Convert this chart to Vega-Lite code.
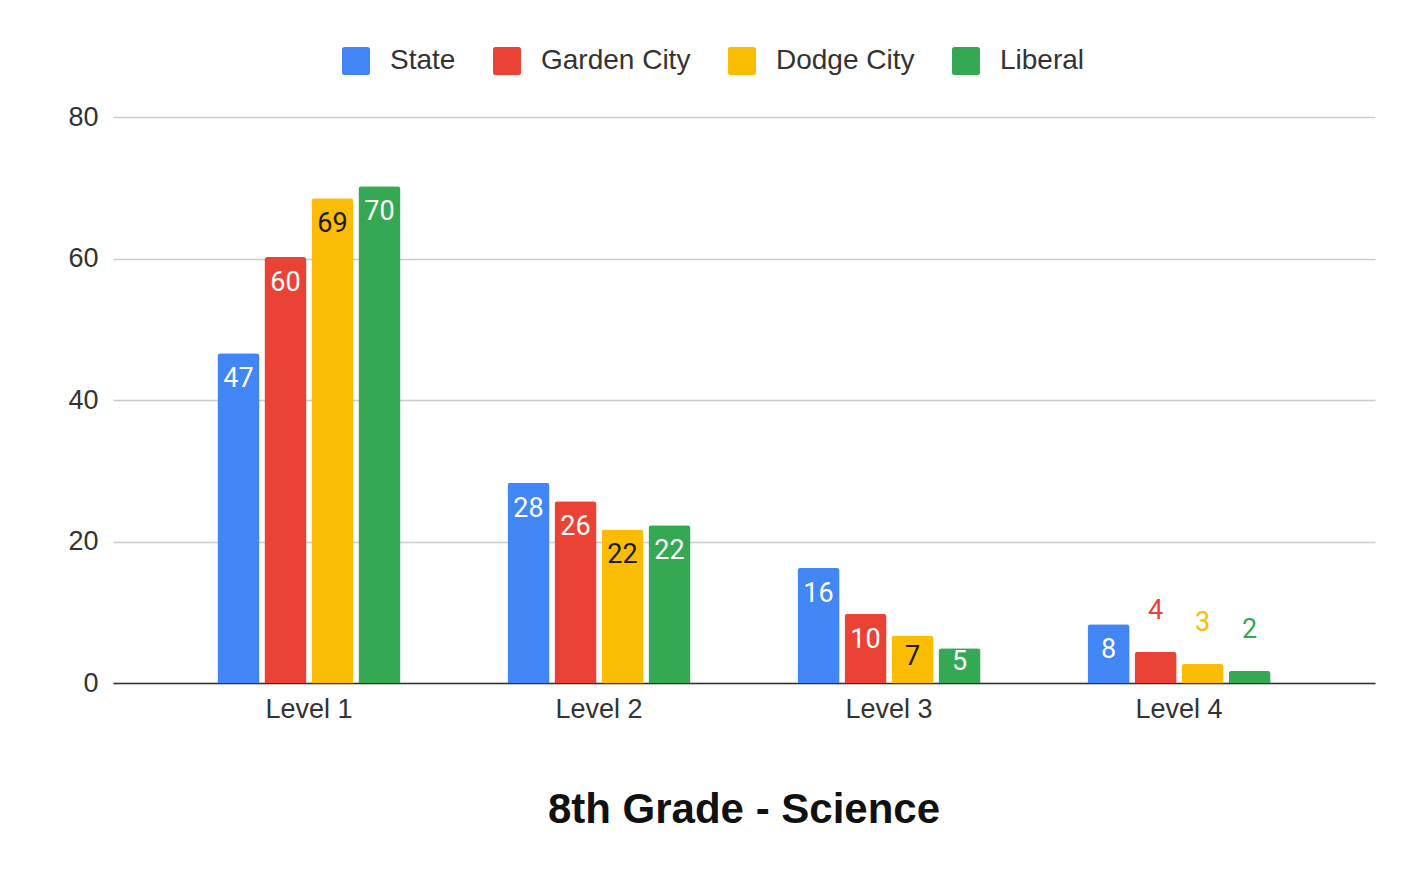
{
  "$schema": "https://vega.github.io/schema/vega-lite/v6.json",
  "width": 1262,
  "height": 566,
  "autosize": {"type": "none"},
  "padding": {"left": 113, "top": 117, "right": 35, "bottom": 187},
  "background": "white",
  "config": {
    "font": "Liberation Sans",
    "view": {"stroke": null},
    "axis": {"labelFont": "Liberation Sans", "labelColor": "#444"}
  },
  "title": {
    "text": "8th Grade - Science",
    "orient": "bottom",
    "anchor": "middle",
    "fontSize": 42,
    "fontWeight": "bold",
    "color": "#111",
    "font": "Liberation Sans",
    "offset": 68
  },
  "data": {
    "values": [
      {"level": "Level 1", "series": "State", "value": 46.6},
      {"level": "Level 1", "series": "Garden City", "value": 60.2},
      {"level": "Level 1", "series": "Dodge City", "value": 68.5},
      {"level": "Level 1", "series": "Liberal", "value": 70.2},
      {"level": "Level 2", "series": "State", "value": 28.3},
      {"level": "Level 2", "series": "Garden City", "value": 25.7},
      {"level": "Level 2", "series": "Dodge City", "value": 21.7},
      {"level": "Level 2", "series": "Liberal", "value": 22.3},
      {"level": "Level 3", "series": "State", "value": 16.3},
      {"level": "Level 3", "series": "Garden City", "value": 9.8},
      {"level": "Level 3", "series": "Dodge City", "value": 6.7},
      {"level": "Level 3", "series": "Liberal", "value": 4.9},
      {"level": "Level 4", "series": "State", "value": 8.3},
      {"level": "Level 4", "series": "Garden City", "value": 4.4},
      {"level": "Level 4", "series": "Dodge City", "value": 2.7},
      {"level": "Level 4", "series": "Liberal", "value": 1.7}
    ]
  },
  "encoding": {
    "x": {
      "field": "level",
      "type": "nominal",
      "scale": {"paddingInner": 0.369, "paddingOuter": 0.36},
      "axis": {
        "title": null,
        "labelAngle": 0,
        "labelFontSize": 27,
        "labelPadding": 13,
        "labelColor": "#333",
        "ticks": false,
        "domainColor": "#333",
        "domainWidth": 1.5,
        "grid": false
      }
    },
    "xOffset": {
      "field": "series",
      "type": "nominal",
      "sort": ["State", "Garden City", "Dodge City", "Liberal"],
      "scale": {"paddingInner": 0.106, "paddingOuter": 0}
    },
    "y": {
      "field": "value",
      "type": "quantitative",
      "scale": {"domain": [0, 80]},
      "axis": {
        "title": null,
        "values": [0, 20, 40, 60, 80],
        "labelFontSize": 27,
        "labelPadding": 15,
        "labelColor": "#333",
        "ticks": false,
        "domain": false,
        "gridColor": "#cccccc",
        "gridWidth": 1.3
      }
    }
  },
  "layer": [
    {
      "mark": {"type": "bar", "cornerRadiusTopLeft": 3, "cornerRadiusTopRight": 3},
      "encoding": {
        "color": {
          "field": "series",
          "type": "nominal",
          "sort": ["State", "Garden City", "Dodge City", "Liberal"],
          "scale": {
            "domain": ["State", "Garden City", "Dodge City", "Liberal"],
            "range": ["#4285F4", "#EA4335", "#FBBC04", "#34A853"]
          },
          "legend": {
            "orient": "none",
            "legendX": 229,
            "legendY": -70,
            "title": null,
            "direction": "horizontal",
            "labelFontSize": 28,
            "labelFont": "Liberation Sans",
            "labelColor": "#333",
            "symbolSize": 784,
            "symbolType": "M -0.82 -1 L 0.82 -1 Q 1 -1 1 -0.82 L 1 0.82 Q 1 1 0.82 1 L -0.82 1 Q -1 1 -1 0.82 L -1 -0.82 Q -1 -1 -0.82 -1 Z",
            "symbolStrokeWidth": 0,
            "symbolOpacity": 1,
            "labelOffset": 20,
            "columnPadding": 37
          }
        }
      }
    },
    {
      "transform": [{"filter": "datum.value >= 8"}],
      "mark": {"type": "text", "baseline": "middle", "align": "center", "dy": 26, "fontSize": 27, "font": "Roboto"},
      "encoding": {
        "text": {"field": "value", "type": "quantitative", "format": ".0f"},
        "color": {
          "condition": {"test": "datum.series === 'Dodge City'", "value": "#1a1a1a"},
          "value": "#ffffff"
        }
      }
    },
    {
      "transform": [{"filter": "datum.value >= 6 && datum.value < 8"}],
      "mark": {"type": "text", "baseline": "middle", "align": "center", "dy": 21, "fontSize": 27, "font": "Roboto"},
      "encoding": {
        "text": {"field": "value", "type": "quantitative", "format": ".0f"},
        "color": {
          "condition": {"test": "datum.series === 'Dodge City'", "value": "#1a1a1a"},
          "value": "#ffffff"
        }
      }
    },
    {
      "transform": [{"filter": "datum.value >= 4.8 && datum.value < 6"}],
      "mark": {"type": "text", "baseline": "middle", "align": "center", "dy": 14, "fontSize": 27, "font": "Roboto"},
      "encoding": {
        "text": {"field": "value", "type": "quantitative", "format": ".0f"},
        "color": {
          "condition": {"test": "datum.series === 'Dodge City'", "value": "#1a1a1a"},
          "value": "#ffffff"
        }
      }
    },
    {
      "transform": [{"filter": "datum.value < 4.8"}],
      "mark": {"type": "text", "baseline": "middle", "align": "center", "dy": -41, "fontSize": 27, "font": "Roboto"},
      "encoding": {
        "text": {"field": "value", "type": "quantitative", "format": ".0f"},
        "color": {
          "condition": [
            {"test": "datum.series === 'Garden City'", "value": "#EA4335"},
            {"test": "datum.series === 'Dodge City'", "value": "#FBBC04"}
          ],
          "value": "#34A853"
        }
      }
    }
  ]
}
